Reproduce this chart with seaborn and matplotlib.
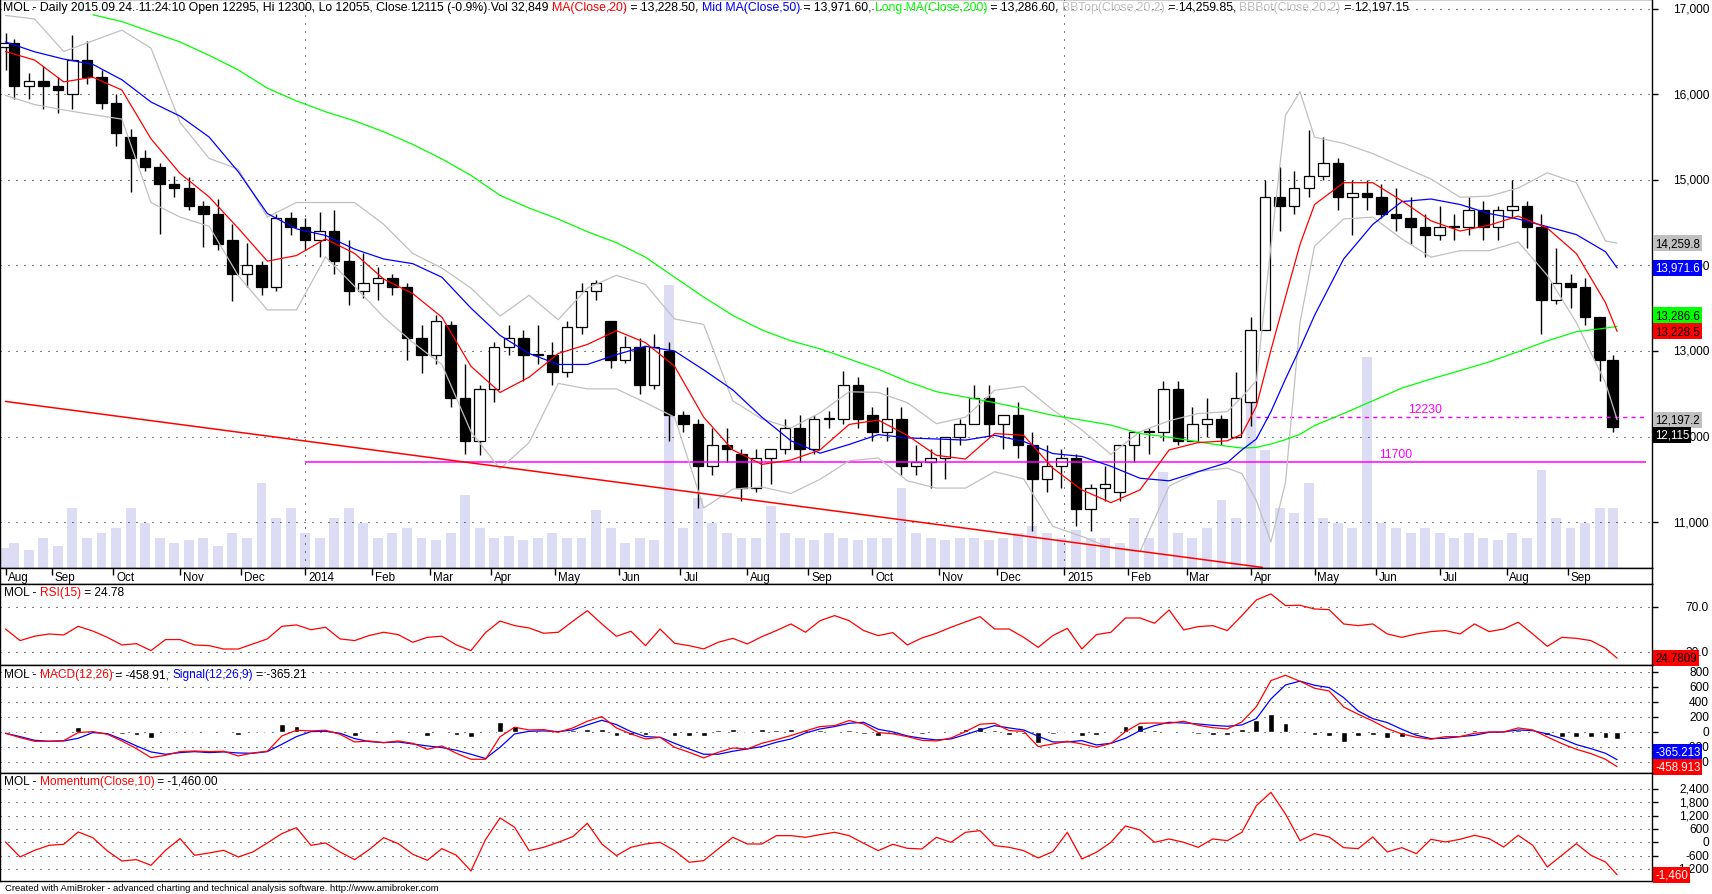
import numpy as np
import pandas as pd
import matplotlib
matplotlib.use("Agg")
import matplotlib.pyplot as plt
import seaborn as sns
from matplotlib.transforms import blended_transform_factory, offset_copy

# ---------------------------------------------------------------- data
first_day, last_day = "2013-08-09", "2015-09-24"

# weekly candles (week 0 = 9 Aug 2013 ... week 111 = 21-24 Sep 2015)
week_open = [16550, 16600, 16100, 16150, 16100, 16000, 16400, 16200, 15900, 15500,
             15250, 15150, 14950, 14900, 14700, 14600, 14300, 13900, 14000, 13750,
             14550, 14450, 14300, 14400, 14050, 13700, 13800, 13850, 13750, 13150,
             12950, 13300, 12450, 11950, 12550, 13050, 13150, 12950, 12950, 12750,
             13280, 13700, 13350, 12900, 13050, 12600, 13000, 12250, 12150, 11650,
             11900, 11800, 11400, 11750, 11850, 12100, 11850, 12200, 12200, 12600,
             12250, 12050, 12200, 11650, 11700, 11750, 12000, 12150, 12450, 12150,
             12250, 11900, 11500, 11650, 11750, 11150, 11400, 11350, 11900, 12050,
             12050, 12550, 11950, 12150, 12200, 12000, 12400, 13250, 14800, 14700,
             14900, 15050, 15200, 14800, 14850, 14800, 14600, 14550, 14450, 14350,
             14450, 14450, 14650, 14450, 14650, 14700, 14450, 13600, 13800, 13750,
             13400, 12900]
week_high = [16720, 16650, 16250, 16330, 16200, 16690, 16620, 16280, 16000, 15600,
             15350, 15200, 15050, 15030, 14750, 14780, 14480, 14260, 14050, 14600,
             14620, 14550, 14620, 14650, 14300, 14150, 13980, 13900, 13800, 13300,
             13420, 13350, 12850, 12600, 13100, 13300, 13250, 13300, 13100, 13350,
             13800, 13830, 13350, 13180, 13150, 13200, 13100, 12300, 12200, 12100,
             12100, 11850, 11850, 11800, 12200, 12250, 12250, 12300, 12770, 12700,
             12350, 12580, 12350, 11900, 11850, 12000, 12200, 12600, 12600, 12250,
             12400, 12050, 11900, 11850, 11800, 11450, 11650, 11900, 12050, 12100,
             12650, 12650, 12350, 12450, 12250, 12750, 13400, 15000, 15150, 15100,
             15580, 15500, 15250, 15000, 15000, 14950, 14900, 14800, 14600, 14700,
             14600, 14800, 14750, 14700, 15000, 14750, 14600, 14200, 13900, 13850,
             13400, 12950]
week_low = [16280, 15950, 15950, 15830, 15780, 15830, 16120, 15830, 15400, 14860,
            15100, 14370, 14800, 14650, 14220, 14180, 13580, 13750, 13650, 13700,
            14350, 14180, 14100, 13900, 13540, 13620, 13600, 13650, 12900, 12740,
            12850, 12350, 11800, 11780, 12400, 12950, 12650, 12850, 12600, 12700,
            13200, 13600, 12800, 12860, 12500, 12550, 11950, 12050, 11160, 11550,
            11700, 11250, 11350, 11450, 11800, 11700, 11800, 12100, 12150, 12100,
            11950, 11950, 11550, 11550, 11400, 11500, 11900, 12150, 12000, 11850,
            11750, 10900, 11350, 11400, 10950, 10900, 11250, 11250, 11700, 11800,
            11950, 11900, 11950, 12000, 11900, 11980, 12120, 13250, 14400, 14600,
            14800, 15000, 14650, 14350, 14650, 14550, 14400, 14250, 14100, 14300,
            14300, 14350, 14300, 14300, 14550, 14200, 13200, 13550, 13500, 13300,
            12650, 12055]
week_close = [16600, 16100, 16150, 16100, 16050, 16400, 16200, 15900, 15550, 15250,
              15150, 14950, 14900, 14700, 14600, 14250, 13900, 14000, 13750, 14550,
              14450, 14300, 14400, 14050, 13700, 13800, 13850, 13750, 13150, 12950,
              13350, 12450, 11950, 12550, 13050, 13150, 12950, 12950, 12750, 13280,
              13700, 13800, 12900, 13050, 12600, 13050, 12250, 12150, 11650, 11900,
              11850, 11400, 11750, 11850, 12100, 11850, 12200, 12200, 12600, 12200,
              12050, 12200, 11650, 11700, 11750, 12000, 12150, 12450, 12150, 12250,
              11900, 11500, 11650, 11750, 11150, 11400, 11450, 11900, 12050, 12050,
              12550, 11950, 12150, 12200, 12000, 12450, 13250, 14800, 14700, 14900,
              15050, 15200, 14800, 14850, 14800, 14600, 14550, 14450, 14350, 14450,
              14450, 14650, 14450, 14650, 14700, 14450, 13600, 13800, 13750, 13400,
              12900, 12115]
week_volume_k = [20, 25, 18, 30, 22, 60, 30, 35, 40, 60,
                 45, 30, 25, 28, 30, 22, 35, 30, 85, 50,
                 60, 35, 30, 50, 60, 45, 30, 35, 40, 30,
                 28, 35, 73, 40, 30, 32, 28, 30, 35, 30,
                 30, 58, 40, 25, 30, 28, 283, 40, 70, 45,
                 35, 30, 30, 62, 35, 30, 28, 35, 30, 28,
                 30, 30, 80, 35, 30, 28, 30, 30, 28, 30,
                 35, 42, 35, 30, 38, 30, 30, 25, 50, 30,
                 96, 35, 30, 40, 68, 50, 170, 118, 60, 55,
                 85, 50, 45, 40, 211, 45, 40, 35, 40, 35,
                 30, 35, 30, 28, 35, 30, 98, 50, 40, 45,
                 60, 60]

# moving averages / Bollinger bands sampled at the end of these weeks
line_weeks = list(range(0, 85, 2)) + [85, 86, 87, 88, 89, 90] + list(range(92, 111, 2)) + [110.8]
ma20 = [16500, 16400, 16145, 16200, 16050, 15480, 15075, 14800, 14435, 14050,
        14115, 14310, 14140, 13840, 13670, 13395, 12821, 12515, 12693, 12970,
        13076, 13237, 13097, 12821, 12226, 11843, 11674, 11725, 11843, 12141,
        12192, 12014, 11780, 11737, 12035, 12014, 11631, 11376, 11227, 11376,
        11843, 11929, 11950,
        12026, 12354, 13010, 13630, 14245, 14712,
        14967, 14967, 14755, 14521, 14402, 14470, 14576, 14436, 14139, 13565,
        13228.50]
ma50 = [16612, 16497, 16412, 16350, 16170, 15910, 15745, 15500, 15095, 14606,
        14427, 14350, 14190, 14075, 14020, 13862, 13501, 13182, 12970, 12842,
        12842, 12957, 13055, 12999, 12779, 12545, 12226, 11950, 11805, 11907,
        12022, 11984, 11971, 11958, 12014, 11942, 11801, 11767, 11652, 11512,
        11482, 11589, 11695,
        11843, 11971, 12290, 12672, 13033, 13416,
        14075, 14479, 14746, 14776, 14712, 14606, 14542, 14453, 14360, 14160,
        13971.60]
ma200 = [np.nan, np.nan, np.nan, 16930, 16850, 16730, 16612, 16455, 16285, 16072,
         15923, 15796, 15690, 15562, 15414, 15245, 15052, 14819, 14670, 14542,
         14394, 14266, 14096, 13862, 13630, 13416, 13246, 13118, 13025, 12906,
         12787, 12643, 12524, 12460, 12396, 12324, 12247, 12192, 12133, 12035,
         11992, 11937, 11886,
         11865, 11873, 11912, 11963, 12026, 12128,
         12269, 12417, 12566, 12672, 12770, 12872, 12991, 13118, 13225, 13267,
         13286.60]
bb_top = [16922, 16880, 16500, 16625, 16750, 16540, 15670, 15250, 15125, 14565,
          14735, 14735, 14735, 14480, 14140, 13969, 13735, 13408, 13650, 13365,
          13735, 13884, 13777, 13374, 13310, 12417, 12205, 12100, 12277, 12523,
          12515, 12396, 12150, 12226, 12540, 12587, 12311, 12077, 11792, 12056,
          12184, 12269, 12290,
          12460, 12651, 14224, 15754, 16030, 15499,
          15426, 15307, 15158, 15010, 14797, 14810, 14904, 15082, 14967, 14287,
          14259.849]
bb_bot = [15987, 15880, 15817, 15762, 15710, 14735, 14565, 14457, 13880, 13480,
          13480, 14100, 13755, 13395, 13100, 12842, 12056, 11622, 11930, 12621,
          12557, 12557, 12396, 12226, 11164, 11385, 11410, 11334, 11500, 11716,
          11750, 11482, 11397, 11397, 11589, 11504, 10951, 10832, 10696, 10653,
          11419, 11589, 11631,
          11567, 11249, 10768, 11461, 13331, 14224,
          14543, 14564, 14309, 14096, 14172, 14172, 14275, 13884, 13331, 12630,
          12197.151]

# oscillators sampled at the end of every week (last value = 24 Sep 2015)
ind_weeks = list(range(111)) + [110.8]
rsi15 = [50.7, 40.4, 44.3, 46.3, 45.4, 53.1, 48.9, 43.3, 36.5, 37.7,
         31.5, 41.3, 41.3, 36.5, 35.9, 32.9, 32.9, 37.4, 41.9, 53.1,
         54.3, 50.1, 52.2, 41.9, 40.4, 44.9, 47.8, 45.7, 38.9, 43.3,
         44.3, 36.5, 31.5, 47.5, 57.8, 53.7, 51.6, 46.9, 47.8, 57.6,
         67.0, 55.2, 44.2, 48.7, 35.9, 50.7, 38.0, 35.9, 33.0, 38.9,
         42.4, 37.4, 43.9, 49.3, 55.2, 47.8, 58.1, 62.6, 58.1, 49.3,
         44.8, 47.5, 36.5, 42.7, 46.9, 52.2, 57.0, 61.7, 50.7, 50.7,
         43.3, 34.4, 44.8, 51.3, 33.0, 45.7, 47.8, 60.5, 60.5, 55.8,
         67.6, 49.9, 52.8, 53.7, 49.3, 62.6, 76.5, 81.9, 71.5, 71.8,
         68.5, 67.9, 55.2, 53.7, 55.2, 46.3, 43.3, 46.3, 48.4, 49.3,
         46.3, 55.2, 48.4, 50.7, 56.7, 46.3, 35.3, 43.3, 42.4, 40.4,
         33.6, 24.7809]
macd = [-13, -71, -120, -120, -111, -4, 9, -27, -116, -218,
        -338, -307, -258, -249, -258, -253, -316, -276, -253, -49,
        27, 18, 27, -27, -129, -116, -138, -116, -147, -227,
        -182, -280, -360, -360, -60, 67, 31, 36, 0, 58,
        147, 209, 58, -22, -89, -67, -200, -267, -342, -267,
        -209, -222, -147, -98, -44, 18, 76, 89, 156, 111,
        -4, -20, -58, -107, -116, -76, 9, 107, 120, 22,
        13, -191, -156, -120, -156, -200, -147, 9, 120, 124,
        120, 147, 93, 62, 44, 138, 342, 689, 760, 680,
        587, 551, 338, 240, 151, 49, -22, -67, -93, -58,
        -58, -13, 4, 4, 58, 31, -62, -151, -227, -284,
        -360, -458.913]
signal = [-13, -58, -107, -120, -116, -80, -4, -18, -93, -182,
          -262, -293, -271, -258, -271, -262, -276, -280, -258, -160,
          -58, 9, 13, -13, -84, -124, -138, -129, -156, -182,
          -204, -240, -293, -350, -200, -22, 13, 18, 9, 31,
          98, 160, 102, 9, -58, -67, -147, -222, -293, -293,
          -253, -222, -191, -133, -89, -9, 44, 76, 120, 133,
          40, 6, -49, -80, -102, -89, -31, 31, 89, 58,
          31, -53, -129, -129, -111, -169, -147, -80, 22, 89,
          133, 124, 111, 93, 80, 98, 182, 444, 631, 682,
          627, 596, 462, 284, 182, 129, 40, -40, -84, -80,
          -58, -40, 0, 4, 31, 22, -22, -84, -164, -218,
          -280, -365.213]
momentum = [15, -660, -360, -135, -90, 465, 210, -390, -840, -780,
            -1035, -360, 165, -585, -480, -360, -660, -435, -30, 390,
            660, -135, -30, -435, -780, -330, 210, -60, -540, -810,
            -285, -585, -1290, 120, 1100, 675, -375, -225, 0, 255,
            855, -75, -600, -225, -75, 0, -375, -900, -825, -300,
            225, -75, -75, 300, 300, 225, 345, 450, 300, -45,
            -375, -90, -270, -300, 225, 0, 450, 525, -150, -225,
            -375, -705, -420, 450, -750, -450, 0, 735, 555, 0,
            150, 0, -225, 150, 75, 450, 1650, 2250, 1275, 75,
            390, 240, -240, -285, 240, -435, -240, -510, 135, 15,
            135, 315, 165, -210, 315, -135, -1110, -585, -60, -585,
            -885, -1460]

# hand-drawn studies
trend_days = [0, 432]
trend_vals = [12410, 10470]
level_values = [11700, 12230]
level_start_days = [103, 430]
level_end_day = 564

last_open, last_high, last_low, last_close, last_vol = 12295, 12300, 12055, 12115, 32849

# ---------------------------------------------------------------- style
sns.set_style("white")
plt.rcParams["font.family"] = ["Liberation Sans", "DejaVu Sans"]

RED, BLUE, GREEN, GRAY, MAG = "#ff0000", "#0000ff", "#00ff00", "#c0c0c0", "#ff00ff"
W, H, RIGHT = 1712, 895, 1652
fig = plt.figure(figsize=(W / 100, H / 100), dpi=100)
fig.patch.set_facecolor("white")


def rect(top, bottom):
    return [0, 1 - bottom / H, RIGHT / W, (bottom - top) / H]


ax_v = fig.add_axes(rect(0, 569))
ax = fig.add_axes(rect(0, 569))
ax_d = fig.add_axes(rect(569, 585))
ax_r = fig.add_axes(rect(585, 666))
ax_m = fig.add_axes(rect(666, 774))
ax_o = fig.add_axes(rect(774, 882))
XL = (-1.9, 566.0)
for a in (ax_v, ax, ax_d, ax_r, ax_m, ax_o):
    a.set_xlim(*XL)
    a.set_xticks([])
    a.set_xlabel("")
    a.set_ylabel("")
    for s in a.spines.values():
        s.set_color("black")
        s.set_linewidth(1)
ax_v.axis("off")
ax.patch.set_visible(False)

DOT = (0, (1, 7))


def hgrid(a, vals):
    for v in vals:
        a.axhline(v, color="black", lw=0.72, ls=DOT, zorder=1)


XR = 1709 / RIGHT


def ylabels(a, vals, fmt):
    tr = blended_transform_factory(a.transAxes, a.transData)
    a.set_yticks(vals)
    a.yaxis.tick_right()
    a.tick_params(axis="y", direction="out", length=4, width=1, color="black",
                  labelright=False, labelleft=False)
    for v in vals:
        a.text(XR, v, fmt(v), transform=tr, ha="right", va="center", fontsize=8.6,
               color="black", clip_on=False, zorder=8)


def vbox(a, v, txt, fc, tc, dy=0):
    tr = blended_transform_factory(a.transAxes, a.transData)
    tr = offset_copy(tr, fig=fig, x=3, y=dy, units="dots")
    a.text(1.0, v, txt, transform=tr, ha="left", va="center", fontsize=8.3, color=tc,
           bbox=dict(boxstyle="square,pad=0.18", fc=fc, ec="none"), clip_on=False, zorder=12)


def sline(a, x, y, col, lw=0.9, **kw):
    sns.lineplot(x=np.asarray(x, float), y=np.asarray(y, float), ax=a, color=col, lw=lw,
                 legend=False, estimator=None, sort=False, zorder=6, **kw)
    a.set_xlabel("")
    a.set_ylabel("")


# ---------------------------------------------------------------- time axis
dates = pd.bdate_range(first_day, last_day)
pos = np.arange(len(dates))
wk = (pos + 4) // 5
centers = pd.Series(pos).groupby(wk).mean().to_numpy()
month_pos = [0] + [i for i in range(1, len(dates)) if dates[i].month != dates[i - 1].month]
month_lab = [str(dates[i].year) if dates[i].month == 1 else dates[i].strftime("%b") for i in month_pos]
year_pos = [i for i in month_pos if dates[i].month == 1]

# ---------------------------------------------------------------- price panel
P_LIM = (10463, 17114)
ax.set_ylim(*P_LIM)
ax_v.set_ylim(0, 569)
ax_v.bar(centers, week_volume_k, width=3.4, color="#dcdcf5", edgecolor="none", zorder=1)

hgrid(ax, range(11000, 17001, 1000))
for yp in year_pos:
    ax.axvline(yp, color="black", lw=0.72, ls=DOT, zorder=1)

o, h, l, c = map(np.asarray, (week_open, week_high, week_low, week_close))
up = c >= o
body_lo = np.minimum(o, c)
body_h = np.maximum(np.abs(c - o), 12)
ax.vlines(centers, l, h, color="black", lw=1, zorder=3)
ax.bar(centers, body_h, bottom=body_lo, width=3.6, color=np.where(up, "white", "black"),
       edgecolor="black", linewidth=0.9, zorder=4)

lx = 5 * np.asarray(line_weeks, float)
sline(ax, lx, bb_top, GRAY)
sline(ax, lx, bb_bot, GRAY)
sline(ax, lx, ma200, GREEN)
sline(ax, lx, ma50, BLUE)
sline(ax, lx, ma20, RED)
sline(ax, trend_days, trend_vals, RED, lw=1.1)

ax.hlines(level_values[0], level_start_days[0], level_end_day, color=MAG, lw=1.1, zorder=5)
ax.hlines(level_values[1], level_start_days[1], level_end_day, color=MAG, lw=1.0,
          linestyles=(0, (3, 3)), zorder=5)
ax.text(478, level_values[0] + 25, str(level_values[0]), color=MAG, fontsize=8.8, ha="center", va="bottom")
ax.text(488, level_values[1] + 25, str(level_values[1]), color=MAG, fontsize=8.8, ha="center", va="bottom")

ylabels(ax, list(range(11000, 17001, 1000)), lambda v: f"{v:,.0f}")
vbox(ax, bb_top[-1], f"{bb_top[-1]:,.1f}", GRAY, "black")
vbox(ax, ma50[-1], f"{ma50[-1]:,.1f}", BLUE, "white")
vbox(ax, ma200[-1], f"{ma200[-1]:,.1f}", GREEN, "black", dy=11)
vbox(ax, ma20[-1], f"{ma20[-1]:,.1f}", RED, "black")
vbox(ax, bb_bot[-1], f"{bb_bot[-1]:,.1f}", GRAY, "black")
vbox(ax, last_close, f"{last_close:,.0f}", "black", "white", dy=-8)

# ---------------------------------------------------------------- date strip
ax_d.set_ylim(0, 1)
ax_d.set_yticks([])
ax_d.vlines(month_pos, 0.55, 1.0, colors="black", lw=1)
for p_, lab in zip(month_pos, month_lab):
    ax_d.text(p_ + 1.0, 0.45, lab, fontsize=8.4, ha="left", va="center", color="black")

# ---------------------------------------------------------------- oscillators
ix = 5 * np.asarray(ind_weeks, float)

ax_r.set_ylim(18.7, 90.7)
hgrid(ax_r, [70, 30])
sline(ax_r, ix, rsi15, RED)
ylabels(ax_r, [70, 30], lambda v: f"{v:.1f}")
vbox(ax_r, rsi15[-1], f"{rsi15[-1]:.4f}", RED, "black")

ax_m.set_ylim(-543, 897)
hgrid(ax_m, range(-400, 801, 200))
hist = np.asarray(macd) - np.asarray(signal)
ax_m.bar(ix, hist, width=2.0, color="black", zorder=3)
sline(ax_m, ix, signal, BLUE)
sline(ax_m, ix, macd, RED)
ylabels(ax_m, list(range(-400, 801, 200)), lambda v: f"{v:,.0f}")
vbox(ax_m, signal[-1], f"{signal[-1]:.3f}", BLUE, "white", dy=8)
vbox(ax_m, macd[-1], f"{macd[-1]:.3f}", RED, "white")

ax_o.set_ylim(-1742, 3120)
hgrid(ax_o, range(-1200, 2401, 600))
sline(ax_o, ix, momentum, RED)
ylabels(ax_o, list(range(-1200, 2401, 600)), lambda v: f"{v:,.0f}")
vbox(ax_o, momentum[-1], f"{momentum[-1]:,.0f}", RED, "white")

# ---------------------------------------------------------------- titles
renderer = fig.canvas.get_renderer()


def seg_text(x_px, y_px, parts, fs):
    bar = fig.text(0, 0, "|", fontsize=fs)
    wbar = bar.get_window_extent(renderer).width
    bar.remove()
    x = x_px
    for s, col in parts:
        fig.text(x / W, 1 - y_px / H, s, color=col, fontsize=fs, ha="left", va="center", zorder=20)
        probe = fig.text(0, 0, s + "|", fontsize=fs)
        x += probe.get_window_extent(renderer).width - wbar
        probe.remove()


head = (f"MOL - Daily 2015.09.24. 11:24:10 Open {last_open}, Hi {last_high}, Lo {last_low}, "
        f"Close {last_close} (-0.9%) Vol {last_vol:,} ")
seg_text(3, 8, [(head, "black"),
                ("MA(Close,20)", RED), (f" = {ma20[-1]:,.2f}, ", "black"),
                ("Mid MA(Close,50)", BLUE), (f" = {ma50[-1]:,.2f}, ", "black"),
                ("Long MA(Close,200)", GREEN), (f" = {ma200[-1]:,.2f}, ", "black"),
                ("BBTop(Close,20,2)", GRAY), (f" = {bb_top[-1]:,.2f}, ", "black"),
                ("BBBot(Close,20,2)", GRAY), (f" = {bb_bot[-1]:,.2f}", "black")], 8.85)
seg_text(4, 593, [("MOL - ", "black"), ("RSI(15)", RED), (f" = {rsi15[-1]:.2f}", "black")], 8.6)
seg_text(4, 675, [("MOL - ", "black"), ("MACD(12,26)", RED), (f" = {macd[-1]:.2f}, ", "black"),
                  ("Signal(12,26,9)", BLUE), (f" = {signal[-1]:.2f}", "black")], 8.6)
seg_text(4, 782, [("MOL - ", "black"), ("Momentum(Close,10)", RED),
                  (f" = {momentum[-1]:,.2f}", "black")], 8.6)

fig.text(5 / W, 1 - 889 / H,
         "Created with AmiBroker - advanced charting and technical analysis software. http://www.amibroker.com",
         fontsize=6.8, ha="left", va="center", color="black")

fig.savefig("out.png", dpi=100, facecolor="white")
